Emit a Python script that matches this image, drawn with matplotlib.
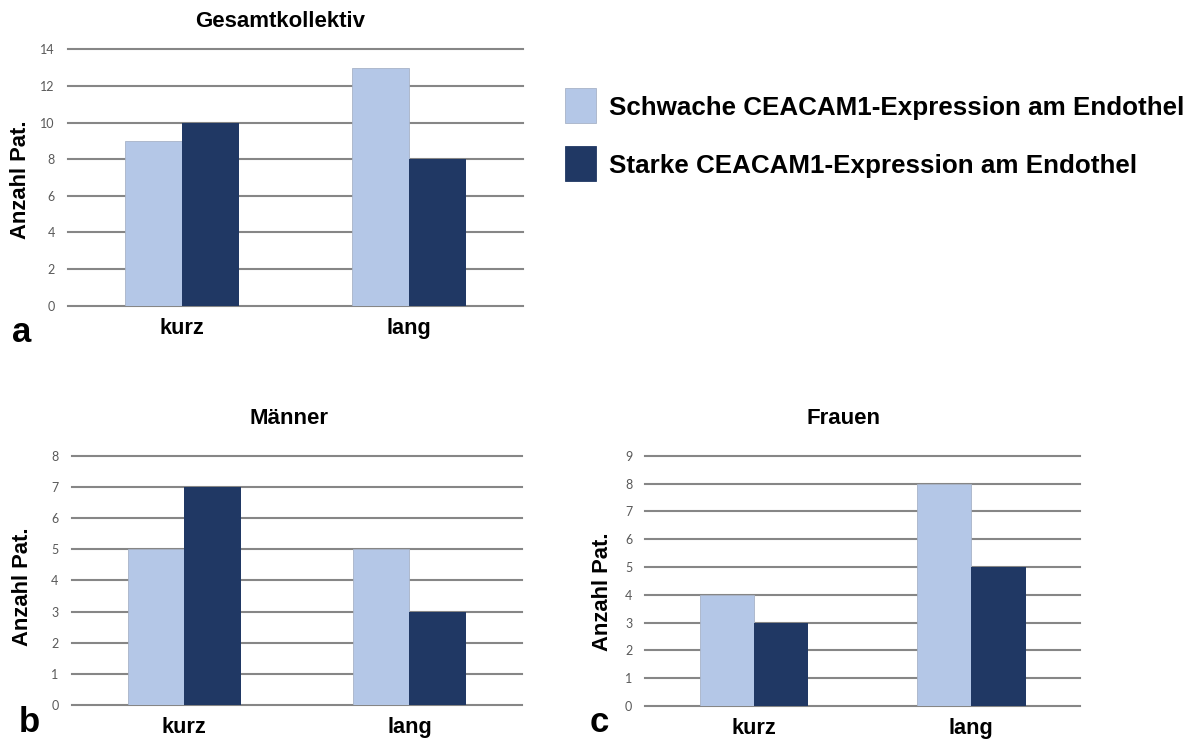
import numpy as np
import matplotlib
matplotlib.use("Agg")
import matplotlib.pyplot as plt
from matplotlib.patches import Rectangle

# ---------------- data ----------------
categories = ["kurz", "lang"]
series_names = ["Schwache CEACAM1-Expression am Endothel",
                "Starke CEACAM1-Expression am Endothel"]
gesamt_schwach = [9, 13]
gesamt_stark = [10, 8]
maenner_schwach = [5, 5]
maenner_stark = [7, 3]
frauen_schwach = [4, 8]
frauen_stark = [3, 5]
titles = ["Gesamtkollektiv", "Männer", "Frauen"]
ylabel = "Anzahl Pat."
panel_letters = ["a", "b", "c"]
y_max = [14, 8, 9]
y_step = [2, 1, 1]

# ---------------- style ----------------
W, H = 1191, 740
DPI = 100
light = "#B4C7E7"
dark = "#203864"
grid_col = "#868686"
tick_col = "#595959"
BOLD = dict(family=["Liberation Sans", "DejaVu Sans"], fontweight="bold")

fig = plt.figure(figsize=(W / DPI, H / DPI), dpi=DPI)
fig.patch.set_facecolor("white")


def fx(x):
    return x / W


def fy(y):
    return 1 - y / H


def make_axes(left, right, top, bottom):
    return fig.add_axes([fx(left), fy(bottom), (right - left) / W, (bottom - top) / H])


# axes boxes in pixels: left, right, top(value=max), bottom(value=0)
boxes = [(68, 522.7, 49.3, 305.7),
         (71.6, 522.0, 455.7, 705.0),
         (645.4, 1080.0, 455.7, 706.0)]
data = [(gesamt_schwach, gesamt_stark),
        (maenner_schwach, maenner_stark),
        (frauen_schwach, frauen_stark)]
title_pos = [(280.6, 21.3), (289, 418), (843, 418)]
ylabel_pos = [(20.7, 180), (22.4, 587), (603, 592)]
letter_pos = [(12, 342), (19, 732), (590, 732)]

bw = 0.25
bars_for_legend = None
for i, (box, (s_weak, s_strong)) in enumerate(zip(boxes, data)):
    ax = make_axes(*box)
    x = np.arange(len(categories))
    for t in np.arange(0, y_max[i] + y_step[i] / 2, y_step[i]):
        ax.axhline(t, color=grid_col, lw=1.5, zorder=0, clip_on=False)
    b1 = ax.bar(x - bw / 2, s_weak, width=bw, color=light, edgecolor="#A7B3C7",
                linewidth=0.6, zorder=2, label=series_names[0])
    b2 = ax.bar(x + bw / 2, s_strong, width=bw, color=dark, edgecolor=dark,
                linewidth=0.0, zorder=2, label=series_names[1])
    if bars_for_legend is None:
        bars_for_legend = (b1, b2)
    ax.set_xlim(-0.5, 1.5)
    ax.set_ylim(0, y_max[i])
    ax.set_yticks(np.arange(0, y_max[i] + y_step[i] / 2, y_step[i]))
    ax.set_yticklabels([str(int(v)) for v in ax.get_yticks()],
                       family=["Lato", "DejaVu Sans"], fontsize=9, color=tick_col)
    ax.set_xticks(x)
    ax.set_xticklabels(categories, fontsize=15.7, **BOLD)
    ax.tick_params(axis="y", length=0, pad=9.4)
    ax.tick_params(axis="x", length=0, pad=8.5)
    for sp in ax.spines.values():
        sp.set_visible(False)
    ax.set_facecolor("none")

    tx, ty = title_pos[i]
    fig.text(fx(tx), fy(ty), titles[i], ha="center", va="center", fontsize=16, **BOLD)
    lx, ly = ylabel_pos[i]
    fig.text(fx(lx), fy(ly), ylabel, ha="center", va="center", rotation=90,
             fontsize=15.8, **BOLD)
    px, py = letter_pos[i]
    fig.text(fx(px), fy(py), panel_letters[i], ha="left", va="baseline",
             fontsize=25, **BOLD)

# ---------------- legend ----------------
legend_rows = [(88, 123), (146, 181)]
for (b, name), (top, bot) in zip(zip(bars_for_legend, series_names), legend_rows):
    col = b.patches[0].get_facecolor()
    ec = b.patches[0].get_edgecolor() if b.patches[0].get_linewidth() > 0 else col
    r = Rectangle((fx(565), fy(bot)), 31 / W, (bot - top) / H, transform=fig.transFigure,
                  facecolor=col, edgecolor=ec, linewidth=0.6)
    fig.add_artist(r)
    fig.text(fx(609), fy((top + bot) / 2 + 10), name, ha="left", va="baseline",
             fontsize=18.7, **BOLD)

fig.savefig("out.png", dpi=DPI, facecolor="white")
